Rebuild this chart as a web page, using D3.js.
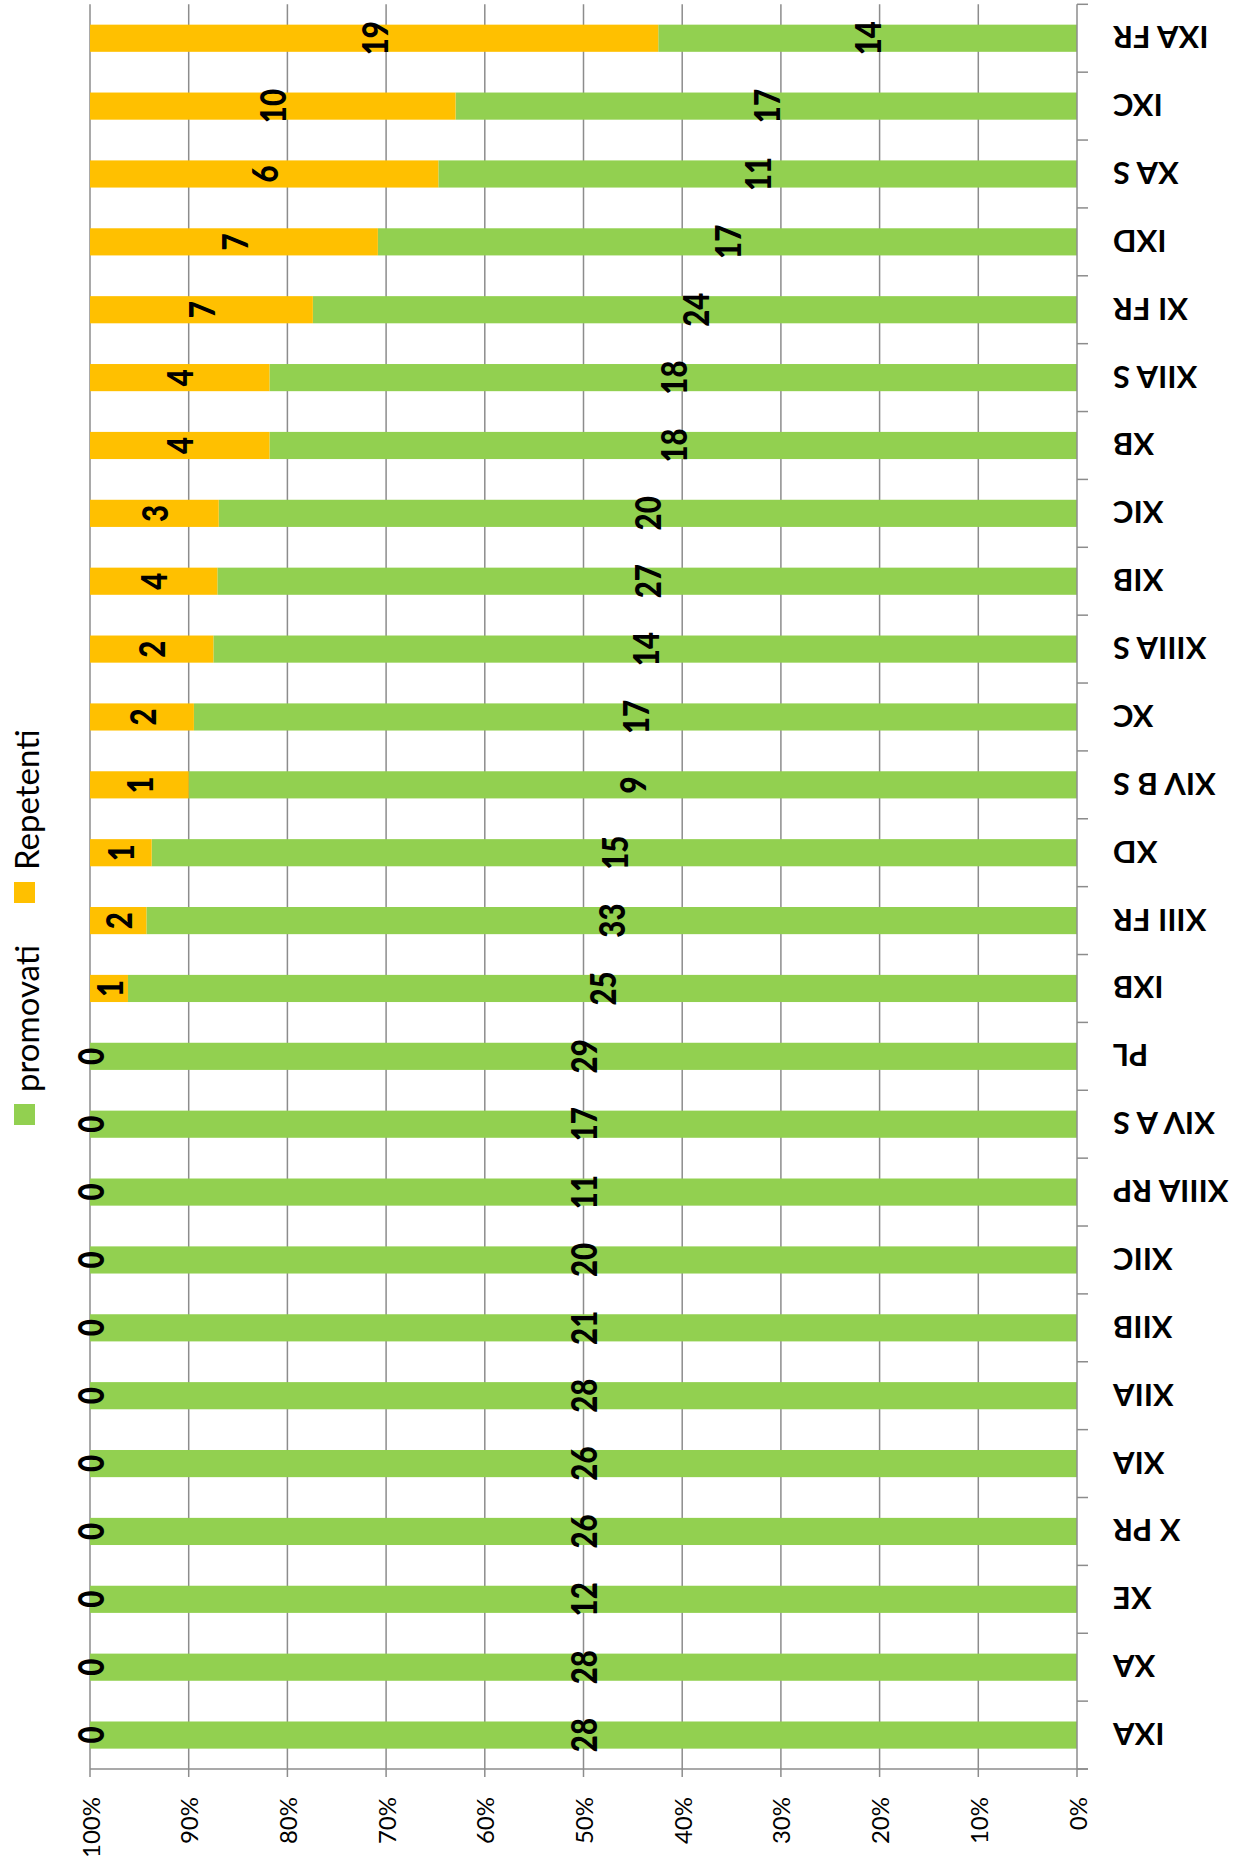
<!DOCTYPE html>
<html>
<head>
<meta charset="utf-8">
<script src="https://cdn.jsdelivr.net/npm/d3@7"></script>
<style>
  body { margin: 0; background: #fff; }
  svg { display: block; }
  .grid line, .axis line { stroke: #8c8c8c; stroke-width: 1.5; }
  .tick-label { font-family: Lato, "Open Sans", sans-serif; font-size: 24px; fill: #000; }
  .cat-label { font-family: Lato, "Open Sans", sans-serif; font-size: 31px; font-weight: bold; fill: #000; }
  .value-label { font-family: Lato, sans-serif; font-size: 31px; font-weight: 900; fill: #000; }
  .legend-text { font-family: Lato, "Open Sans", sans-serif; font-size: 33px; fill: #000; }
</style>
</head>
<body>
<div id="chart"></div>
<script>
// classes, top to bottom as they appear in the picture
const categories = ['IXA FR', 'IXC', 'XA S', 'IXD', 'XI FR', 'XIIA S', 'XB', 'XIC', 'XIB',
  'XIIIA S', 'XC', 'XIV B S', 'XD', 'XIII FR', 'IXB', 'PL', 'XIV A S', 'XIIIA RP',
  'XIIC', 'XIIB', 'XIIA', 'XIA', 'X PR', 'XE', 'XA', 'IXA'];
const promovati = [14, 17, 11, 17, 24, 18, 18, 20, 27, 14, 17, 9, 15, 33, 25, 29, 17, 11,
  20, 21, 28, 26, 26, 12, 28, 28];
const repetenti = [19, 10, 6, 7, 7, 4, 4, 3, 4, 2, 2, 1, 1, 2, 1, 0, 0, 0,
  0, 0, 0, 0, 0, 0, 0, 0];
const seriesNames = ['promovati', 'Repetenti'];
const colors = ['#92d050', '#ffc000'];
const percentTicks = [0, 0.1, 0.2, 0.3, 0.4, 0.5, 0.6, 0.7, 0.8, 0.9, 1];

const width = 1239;
const height = 1867;
const plot = { left: 90, right: 1077, top: 4.3, bottom: 1769 };

const rows = categories.map((c, i) => ({
  name: c,
  promovati: promovati[i],
  Repetenti: repetenti[i]
}));

const stack = d3.stack()
  .keys(seriesNames)
  .offset(d3.stackOffsetExpand);
const layers = stack(rows);

// the chart is turned on its side: 0% sits on the right, 100% on the left
const x = d3.scaleLinear().domain([0, 1]).range([plot.right, plot.left]);
const y = d3.scaleBand()
  .domain(categories)
  .range([plot.top, plot.bottom])
  .paddingInner(0.6)
  .paddingOuter(0.3);

const svg = d3.select('#chart')
  .append('svg')
  .attr('width', width)
  .attr('height', height);

// vertical gridlines
svg.append('g')
  .attr('class', 'grid')
  .selectAll('line')
  .data(percentTicks.filter(t => t > 0))
  .join('line')
  .attr('x1', d => x(d))
  .attr('x2', d => x(d))
  .attr('y1', plot.top)
  .attr('y2', plot.bottom);

// bars
svg.append('g')
  .selectAll('g')
  .data(layers)
  .join('g')
  .attr('fill', (d, i) => colors[i])
  .selectAll('rect')
  .data(d => d)
  .join('rect')
  .attr('x', d => x(d[1]))
  .attr('width', d => x(d[0]) - x(d[1]))
  .attr('y', d => y(d.data.name))
  .attr('height', y.bandwidth());

// value axis along the bottom
const bottomAxis = svg.append('g').attr('class', 'axis');
bottomAxis.append('line')
  .attr('x1', plot.left).attr('x2', plot.right + 11)
  .attr('y1', plot.bottom).attr('y2', plot.bottom);
bottomAxis.selectAll('.tk')
  .data(percentTicks)
  .join('line')
  .attr('class', 'tk')
  .attr('x1', d => x(d)).attr('x2', d => x(d))
  .attr('y1', plot.bottom).attr('y2', plot.bottom + 8);
bottomAxis.selectAll('text')
  .data(percentTicks)
  .join('text')
  .attr('class', 'tick-label')
  .attr('text-anchor', 'end')
  .attr('dominant-baseline', 'central')
  .attr('transform', d => `translate(${x(d)},${plot.bottom + 28}) rotate(-90)`)
  .text(d => d3.format('.0%')(d));

// category axis on the right
const rightAxis = svg.append('g').attr('class', 'axis');
rightAxis.append('line')
  .attr('x1', plot.right).attr('x2', plot.right)
  .attr('y1', plot.top).attr('y2', plot.bottom);
const bounds = categories.map(c => y(c) - y.step() * y.paddingInner() / 2)
  .concat([plot.bottom]);
rightAxis.selectAll('.tk')
  .data(bounds)
  .join('line')
  .attr('class', 'tk')
  .attr('x1', plot.right).attr('x2', plot.right + 11)
  .attr('y1', d => d).attr('y2', d => d);
rightAxis.selectAll('text')
  .data(categories)
  .join('text')
  .attr('class', 'cat-label')
  .attr('text-anchor', 'end')
  .attr('dominant-baseline', 'central')
  .attr('transform', d => `translate(1113,${y(d) + y.bandwidth() / 2}) rotate(180)`)
  .text(d => d);

// value labels, centred in each segment
const labels = svg.append('g');
layers.forEach(layer => {
  labels.selectAll(null)
    .data(layer)
    .join('text')
    .attr('class', 'value-label')
    .attr('text-anchor', 'middle')
    .attr('dominant-baseline', 'central')
    .attr('transform', d => {
      const cx = x((d[0] + d[1]) / 2);
      const cy = y(d.data.name) + y.bandwidth() / 2;
      return `translate(${cx},${cy}) rotate(-90) scale(0.95,1.15)`;
    })
    .text(d => d.data[layer.key]);
});

// legend, written bottom to top on the left
const legendPos = [{ sq: 1104, txt: 1092 }, { sq: 882, txt: 870 }];
const legend = svg.append('g')
  .selectAll('g')
  .data(seriesNames)
  .join('g');
legend.append('rect')
  .attr('x', 14)
  .attr('y', (d, i) => legendPos[i].sq)
  .attr('width', 21)
  .attr('height', 21)
  .attr('fill', (d, i) => colors[i]);
legend.append('text')
  .attr('class', 'legend-text')
  .attr('dominant-baseline', 'central')
  .attr('transform', (d, i) => `translate(26,${legendPos[i].txt}) rotate(-90)`)
  .text(d => d);
</script>
</body>
</html>
